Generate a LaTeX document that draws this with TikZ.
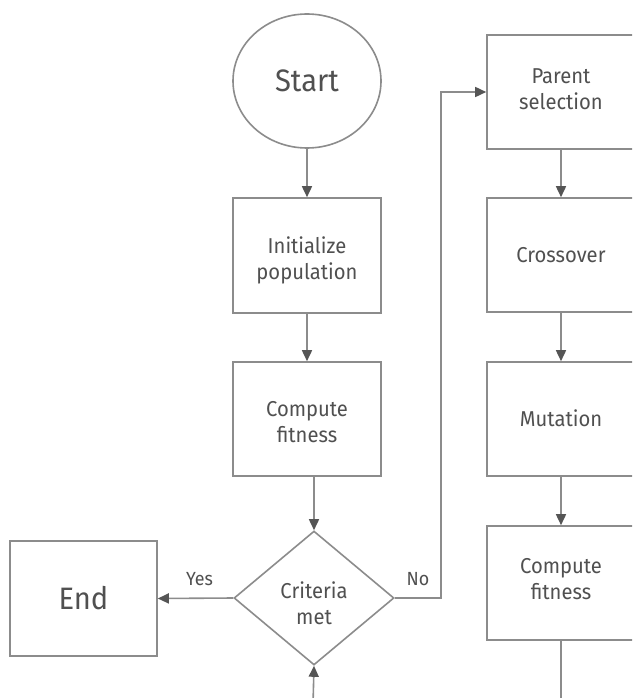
\documentclass[tikz,border=0pt]{standalone}
\usepackage{fontspec}
\setmainfont{Fira Sans}[FakeStretch=0.94]
\usetikzlibrary{shapes.geometric,arrows.meta}
\definecolor{linegray}{HTML}{8C8C8C}
\definecolor{tipgray}{HTML}{555555}
\definecolor{textgray}{HTML}{505050}
\begin{document}
\begin{tikzpicture}[x=1pt,y=-1pt,
  every node/.style={text=textgray, font=\fontsize{21.5}{26.5}\selectfont, align=center},
  box/.style={draw=linegray, line width=1.6pt, rectangle, minimum width=148pt, minimum height=114pt, inner sep=0pt},
  txt/.style={inner sep=0pt, text=textgray, font=\fontsize{21.5}{26.5}\selectfont, align=center},
  conn/.style={draw=linegray, line width=1.6pt},
  arr/.style={conn, -{Triangle[length=11pt,width=10pt,color=tipgray]}},
  lbl/.style={font=\fontsize{19}{21}\selectfont, inner sep=0pt, anchor=base}
]
\clip (0,0) rectangle (632,698);
\fill[white] (0,0) rectangle (632,698);
% left column
\node[draw=linegray, line width=1.6pt, ellipse, minimum width=148pt, minimum height=134pt, inner sep=0pt, font=\fontsize{31}{34}\selectfont] (start) at (307,81) {Start};
\node[box, minimum height=115pt, label={[txt,yshift=-5pt]center:Initialize\\population}] (init) at (307,255.5) {};
\node[box, label={[txt,yshift=-3pt]center:Compute\\fitness}] (fit1) at (307,419) {};
\node[draw=linegray, line width=1.6pt, diamond, minimum width=160pt, minimum height=134pt, inner sep=0pt, label={[txt,yshift=-5pt]center:Criteria\\met}] (crit) at (314,598) {};
\node[box, minimum width=147pt, minimum height=115pt, font=\fontsize{31}{34}\selectfont] (end) at (83.5,598.5) {End};
% right column
\node[box, label={[txt,yshift=3pt]center:Parent\\selection}] (parent) at (561,92) {};
\node[box] (cross) at (561,255) {Crossover};
\node[box, label={[txt,yshift=1pt]center:Mutation}] (mut) at (561,419) {};
\node[box, label={[txt,yshift=4pt]center:Compute\\fitness}] (fit2) at (561,583) {};
% free ends
\coordinate (loopin) at (313,705);
\coordinate (fit2out) at (561,705);
\coordinate (noturn) at (441,598);
% connectors
\draw[arr] (start) -- (init);
\draw[arr] (init) -- (fit1);
\draw[arr] (fit1.south -| crit.north) -- (crit.north);
\draw[arr] (crit.west) -- node[lbl, midway, yshift=13pt, xshift=4pt] {Yes} (end.east);
\draw[arr] (crit.east) -- node[lbl, midway, yshift=13pt] {No} (noturn) |- (parent.west);
\draw[arr] (parent) -- (cross);
\draw[arr] (cross) -- (mut);
\draw[arr] (mut) -- (fit2);
\draw[conn] (fit2.south) -- (fit2out);
\draw[arr] (loopin) -- (crit.south);
\end{tikzpicture}
\end{document}
